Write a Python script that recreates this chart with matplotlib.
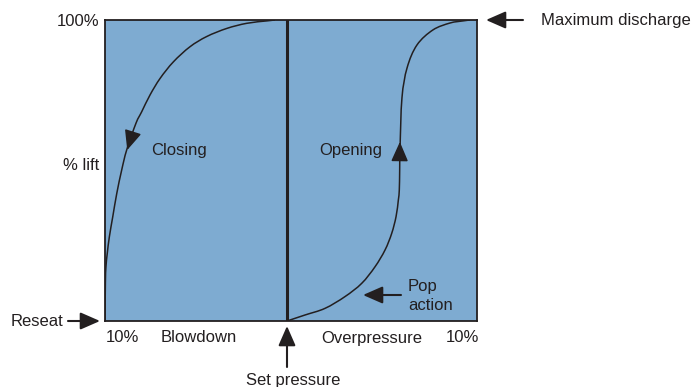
import matplotlib
matplotlib.use("Agg")
import matplotlib.pyplot as plt
from matplotlib.path import Path
from matplotlib.patches import PathPatch, FancyArrowPatch

plt.rcParams['font.family'] = ['Liberation Sans', 'DejaVu Sans']

# pressure relative to set pressure (%), lift (%)
closing_x = [-0.63, -1.07, -2.12, -3.17, -4.23, -5.11, -5.98, -6.68, -7.21, -7.65,
             -7.95, -8.44, -8.70, -8.96, -9.17, -9.35, -9.46, -9.53, -9.56, -9.58]
closing_y = [100, 99.7, 98.9, 97.2, 94.5, 91.1, 86.1, 80.6, 75.1, 69.5,
             65.7, 56.8, 50.2, 42.4, 34.7, 28.0, 22.5, 18.0, 12.6, 0]

opening_x = [0, 0.95, 2.0, 3.05, 3.93, 4.63, 5.16, 5.51, 5.74, 5.86, 5.91, 5.93,
             5.95, 6.05, 6.32, 6.84, 7.68, 8.58, 9.26, 9.63]
opening_y = [0, 2.0, 4.2, 8.1, 12.5, 18.0, 23.6, 29.1, 34.7, 40.2, 43.5, 50.0,
             57.5, 74.1, 84.1, 91.7, 96.7, 99.0, 99.7, 100]

# direction arrows on the curves: (tail, tip)
closing_arrow = [(-8.16, 61.8), (-8.41, 56.8)]
opening_arrow = [(5.93, 54.5), (5.94, 59.5)]

x_limits = (-9.58, 10)
y_limits = (0, 100)

W, H = 698, 387
ink = '#231f20'
fill = '#7eabd1'
fs = 12

fig = plt.figure(figsize=(W / 100, H / 100), dpi=100)
ax = fig.add_axes([105 / W, 1 - 321 / H, 372 / W, 301 / H])
ax.set_facecolor(fill)
ax.set_xlim(*x_limits)
ax.set_ylim(*y_limits)
ax.set_xticks([])
ax.set_yticks([])
for s in ax.spines.values():
    s.set_color(ink)
    s.set_linewidth(1.3)

ax.axvline(0, color=ink, lw=2.2)


def smooth(xs, ys):
    # catmull-rom through the read points, drawn as bezier segments
    pts = list(zip(xs, ys))
    verts = [pts[0]]
    codes = [Path.MOVETO]
    n = len(pts)
    for i in range(n - 1):
        p0 = pts[max(i - 1, 0)]
        p1 = pts[i]
        p2 = pts[i + 1]
        p3 = pts[min(i + 2, n - 1)]
        c1 = (p1[0] + (p2[0] - p0[0]) / 6, p1[1] + (p2[1] - p0[1]) / 6)
        c2 = (p2[0] - (p3[0] - p1[0]) / 6, p2[1] - (p3[1] - p1[1]) / 6)
        verts += [c1, c2, p2]
        codes += [Path.CURVE4] * 3
    return Path(verts, codes)


for xs, ys in [(closing_x, closing_y), (opening_x, opening_y)]:
    ax.add_patch(PathPatch(smooth(xs, ys), fill=False, edgecolor=ink, lw=1.1))

head = dict(arrowstyle='-|>,head_length=0.8,head_width=0.35', color=ink,
            lw=1.1, mutation_scale=15, shrinkA=0, shrinkB=0)
for tail, tip in [closing_arrow, opening_arrow]:
    ax.annotate('', xy=tip, xytext=tail, arrowprops=head)


def fx(px):
    return px / W


def fy(py):
    return 1 - py / H


def label(px, py, s, ha='left'):
    fig.text(fx(px), fy(py), s, ha=ha, va='center', fontsize=fs, color=ink)


def arrow(p0, p1):
    fig.add_artist(FancyArrowPatch(
        (fx(p0[0]), fy(p0[1])), (fx(p1[0]), fy(p1[1])),
        transform=fig.transFigure, arrowstyle='-|>,head_length=0.8,head_width=0.35',
        mutation_scale=15, color=ink, lw=1.5, shrinkA=0, shrinkB=0))


label(99, 21, '100%', ha='right')
label(99, 166, '% lift', ha='right')
label(151, 150, 'Closing')
label(319, 150, 'Opening')
label(408, 287, 'Pop')
label(408, 305, 'action')
label(11, 321, 'Reseat')
label(106, 337, '10%')
label(161, 338, 'Blowdown')
label(321, 338, 'Overpressure')
label(446, 338, '10%')
label(293, 380, 'Set pressure', ha='center')
label(541, 20, 'Maximum discharge')

arrow((523, 20), (486, 20))
arrow((401, 295), (363, 295))
arrow((68, 321), (100, 321))
arrow((287, 367), (287, 326))

fig.savefig('out.png', dpi=100)
